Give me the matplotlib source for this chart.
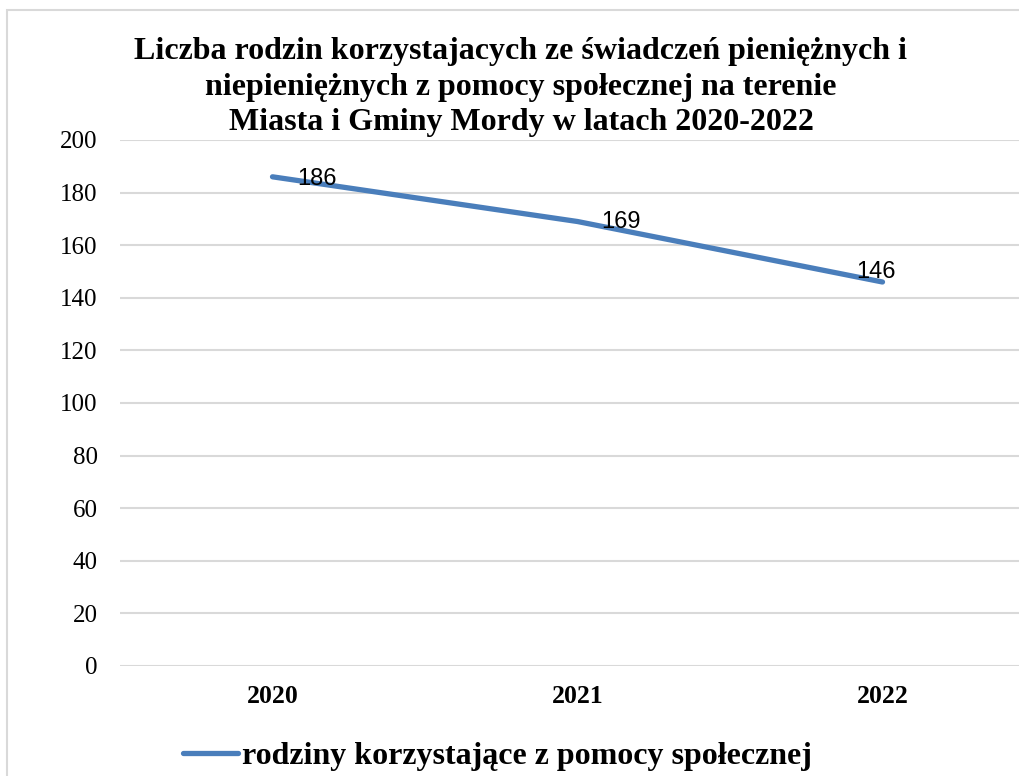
import matplotlib.pyplot as plt
from matplotlib.patches import Rectangle

# =====================================================
# DATA
# =====================================================

years = ["2020", "2021", "2022"]
families = [186, 169, 146]
y_ticks = [0, 20, 40, 60, 80, 100, 120, 140, 160, 180, 200]

series_name = "rodziny korzystające z pomocy społecznej"
title = ("Liczba rodzin korzystajacych ze świadczeń pieniężnych i\n"
         "niepieniężnych z pomocy społecznej na terenie\n"
         "Miasta i Gminy Mordy w latach 2020-2022")

LINE_COLOR = "#4a7ebb"
GRID_COLOR = "#d9d9d9"
SERIF = "Liberation Serif"

# label offsets in points (dx, dy, ha)
label_offsets = [(18, -1.5, "left"), (17, 0, "left"), (-5, 7, "center")]

# =====================================================
# FIGURE
# =====================================================

fig = plt.figure(figsize=(10.19, 7.76), dpi=100)

# outer chart frame (runs off the right / bottom edge)
fig.patches.append(Rectangle((7 / 1019, -0.05), 1.1, 0.987 + 0.05,
                             transform=fig.transFigure, fill=False,
                             edgecolor=GRID_COLOR, linewidth=1.5))

ax = fig.add_axes([120 / 1019, 0.1418, 915 / 1019, 0.6778])

x = list(range(len(years)))
ax.plot(x, families, color=LINE_COLOR, linewidth=3.8,
        solid_capstyle="round", label=series_name, zorder=3)

for xi, v, (dx, dy, ha) in zip(x, families, label_offsets):
    ax.annotate(str(v), (xi, v), xytext=(dx, dy), textcoords="offset points",
                ha=ha, va="center", fontsize=17, family="Liberation Sans",
                color="black", zorder=4)

ax.set_xlim(-0.5, len(years) - 0.5)
ax.set_ylim(0, 200)
ax.set_yticks(y_ticks)
ax.set_yticklabels([str(t) for t in y_ticks], family=SERIF, fontsize=18)
ax.set_xticks(x)
ax.set_xticklabels(years, family=SERIF, fontsize=18.5, fontweight="bold")
ax.tick_params(axis="y", length=0, pad=16)
ax.tick_params(axis="x", length=0, pad=14)

ax.grid(axis="y", color=GRID_COLOR, linewidth=1.5)
ax.set_axisbelow(True)
for side in ["top", "right", "left", "bottom"]:
    ax.spines[side].set_visible(False)

fig.text(521 / 1019, 1 - 87 / 776, title, ha="center", va="center",
         family=SERIF, fontsize=23, fontweight="bold", linespacing=1.28)

fig.legend(loc="center", bbox_to_anchor=(497 / 1019, 1 - 756 / 776),
           frameon=False, handlelength=1.75, handletextpad=0.1,
           prop={"family": SERIF, "size": 23, "weight": "bold"})

fig.savefig("out.png", dpi=100)
